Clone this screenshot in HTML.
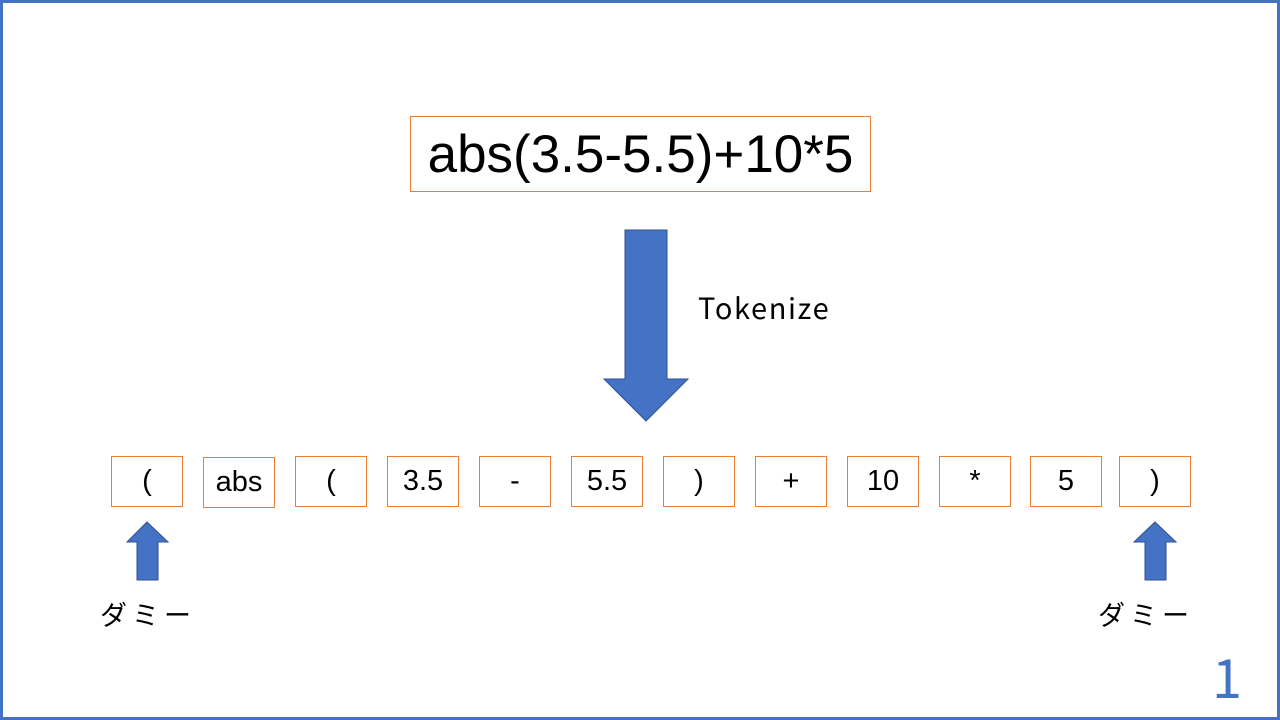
<!DOCTYPE html>
<html><head><meta charset="utf-8"><style>
body{margin:0;width:1280px;height:720px;overflow:hidden;background:#fff;font-family:"Liberation Sans","Noto Sans CJK JP",sans-serif}
#frame{position:absolute;left:0;top:0;width:1274px;height:714px;border:3px solid #4472c4}
.box{position:absolute;border:1px solid #ed7d31;box-sizing:border-box;display:flex;align-items:center;justify-content:center;color:#000;background:#fff}
.tok{top:456px;width:72px;height:51px;font-size:29px}
.lbl{position:absolute;font-family:"Noto Sans CJK JP",sans-serif;font-size:27px;color:#000;letter-spacing:5px}
</style></head><body>
<div id="frame"></div>
<div class="box" style="left:410px;top:116px;width:461px;height:76px;font-size:53px">abs(3.5-5.5)+10*5</div>
<svg width="1280" height="720" style="position:absolute;left:0;top:0">
<polygon points="625,230 667,230 667,379 688,379 646,421 604,379 625,379" fill="#4472c4" stroke="#2f528f" stroke-width="1"/>
<polygon points="147,522 168,542 158,542 158,580 137,580 137,542 127,542" fill="#4472c4" stroke="#2f528f" stroke-width="1"/>
<polygon points="1155,522 1176,542 1166,542 1166,580 1145,580 1145,542 1134,542" fill="#4472c4" stroke="#2f528f" stroke-width="1"/>
</svg>
<div class="lbl" style="left:698px;top:286px;font-size:29px;letter-spacing:1.6px">Tokenize</div>
<div id="tokens"></div>
<div class="lbl" style="left:100px;top:594px">ダミー</div>
<div class="lbl" style="left:1098px;top:594px">ダミー</div>
<div style="position:absolute;left:1212px;top:640px;font-size:54px;color:#4472c4;font-family:'Noto Sans CJK JP',sans-serif;line-height:70px">1</div>
<script>
const tokens=["(","abs","(","3.5","-","5.5",")","+","10","*","5",")"];
const lefts=[111,203,295,387,479,571,663,755,847,939,1030,1119];
const c=document.getElementById('tokens');
tokens.forEach((t,i)=>{
 const d=document.createElement('div');
 d.className='box tok';
 d.style.left=lefts[i]+'px';
 if(t==='abs'){d.style.top='457px';d.style.height='51px';}
 d.textContent=t;
 
 
 c.appendChild(d);
});
</script>
</body></html>
